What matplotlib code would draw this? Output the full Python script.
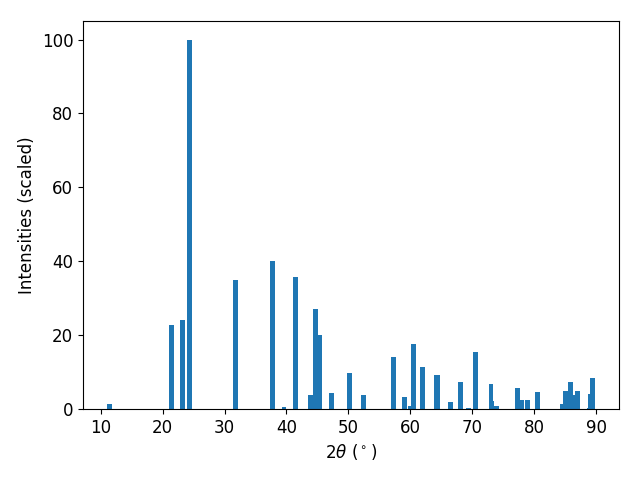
import matplotlib
matplotlib.use("Agg")
import matplotlib.pyplot as plt

two_theta = [11.5, 21.5, 23.15, 24.4, 31.85, 37.8, 39.6, 41.4, 43.8, 44.75, 45.4,
             47.2, 50.1, 52.5, 57.2, 59.1, 60.0, 60.55, 61.9, 64.15, 64.3, 66.4,
             68.15, 69.3, 70.55, 73.0, 73.15, 73.85, 77.2, 77.98, 78.95, 80.55,
             84.6, 84.95, 85.75, 86.3, 87.0, 88.9, 89.05, 89.3]
intensities = [1.35, 22.8, 24.1, 100.0, 35.0, 40.1, 0.5, 35.8, 3.8, 27.1, 20.0,
               4.3, 9.75, 3.8, 14.1, 3.25, 0.8, 17.6, 11.4, 9.2, 9.2, 1.9,
               7.3, 0.3, 15.4, 6.8, 2.2, 0.8, 5.7, 2.4, 2.4, 4.6,
               1.35, 4.9, 7.3, 3.8, 4.9, 0.2, 4.1, 8.4]

fig, ax = plt.subplots(figsize=(6.4, 4.8), dpi=100)
ax.bar(two_theta, intensities, width=0.8, color="#1f77b4")
ax.set_xlabel(r"$2\theta$ ($^\circ$)", fontsize=12)
ax.set_ylabel("Intensities (scaled)", fontsize=12)
ax.tick_params(labelsize=12)
fig.subplots_adjust(left=0.1297, right=0.967, top=0.956, bottom=0.148)
fig.savefig("out.png", dpi=100)
